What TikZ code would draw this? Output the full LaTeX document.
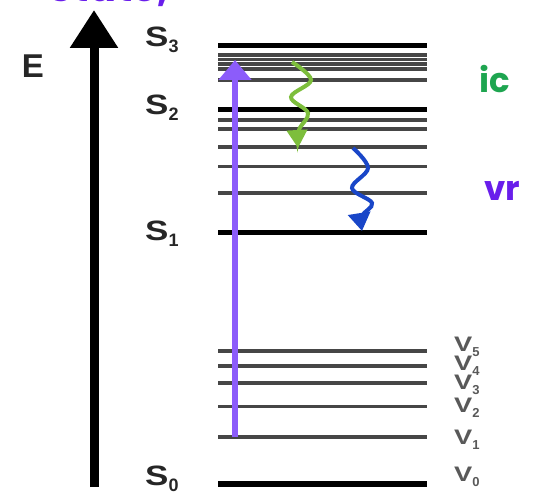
\documentclass[tikz,border=0pt]{standalone}
\usepackage{fontspec}
\setmainfont{Liberation Sans}
\newfontfamily\popp{Poppins}
\usetikzlibrary{arrows.meta}
\definecolor{axpurple}{RGB}{140,92,250}
\definecolor{wgreen}{RGB}{125,190,60}
\definecolor{wblue}{RGB}{25,70,200}
\definecolor{icgreen}{RGB}{30,165,80}
\definecolor{vrpurple}{RGB}{105,30,235}
\definecolor{lvgray}{RGB}{70,70,70}
\newcommand{\slab}[1]{\scalebox{1.25}[1]{S}\raisebox{-0.2em}{\fontsize{18}{18}\selectfont #1}}
\newcommand{\vlab}[1]{\scalebox{1.3}[1]{V}\raisebox{-0.25em}{\fontsize{13}{13}\selectfont #1}}
\tikzset{
  thicklvl/.style={line width=5, black},
  thinlvl/.style={line width=3.2, lvgray},
  slabel/.style={font=\bfseries\fontsize{28}{28}\selectfont, text=black!85, inner sep=0, anchor=west},
  vlabel/.style={font=\bfseries\fontsize{21}{21}\selectfont, text=black!65, inner sep=0, anchor=west},
  proc/.style={font=\popp\bfseries\fontsize{34}{34}\selectfont, inner sep=0},
}
\begin{document}
\begin{tikzpicture}[x=1pt,y=-1pt]
\useasboundingbox (0,0) rectangle (544,494);
% cut title fragment
\node[anchor=base west, inner sep=0, text=vrpurple, font=\popp\bfseries\fontsize{40}{40}\selectfont] (title) at (48,1.2) {State,};
% energy axis
\coordinate (axb) at (94,487);
\coordinate (axt) at (94,10);
\draw[line width=9, -{Triangle[width=46,length=38]}] (axb) -- (axt);
\node[font=\bfseries\fontsize{33}{33}\selectfont, text=black!85, inner sep=0] (E) at (33,66) {E};
% levels
\foreach \y in {55,59.5,64,69,80} \draw[thinlvl] (218,\y) -- (427,\y);
\draw[thicklvl] (218,46) -- (427,46);
\foreach \y in {120,129,147,166.5,193} \draw[thinlvl] (218,\y) -- (427,\y);
\draw[thicklvl] (218,110) -- (427,110);
\draw[thicklvl] (218,232.5) -- (427,232.5);
\foreach \y in {351,366,383,406.5,437} \draw[thinlvl] (218,\y) -- (427,\y);
\draw[line width=6] (218,484) -- (427,484);
% S labels
\node[slabel] (s3) at (145,40) {\slab{3}};
\node[slabel] (s2) at (145,108) {\slab{2}};
\node[slabel] (s1) at (145,234) {\slab{1}};
\node[slabel] (s0) at (145,479) {\slab{0}};
% V labels
\foreach \y/\n in {347/5,366/4,385/3,408/2,440/1,477/0}
  \node[vlabel] (v\n) at (454,\y) {\vlab{\n}};
% excitation arrow
\coordinate (exb) at (235,437);
\coordinate (ext) at (235,60);
\draw[axpurple, line width=6, -{Triangle[width=32,length=20]}] (exb) -- (ext);
% internal conversion
\draw[wgreen, line width=4, -{Triangle[width=20,length=18]}]
  plot[smooth, tension=0.6] coordinates {(292,62) (311,80) (291,97) (308,113) (299,130) (298,148)};
% vibrational relaxation
\draw[wblue, line width=4, -{Triangle[width=22,length=18]}]
  plot[smooth, tension=0.6] coordinates {(353,148) (368,168) (352,188) (372,203) (362,216) (362,231)};
% process labels
\node[proc, text=icgreen] (ic) at (495,79) {ic};
\node[proc, text=vrpurple] (vr) at (502,191) {vr};
\end{tikzpicture}
\end{document}
